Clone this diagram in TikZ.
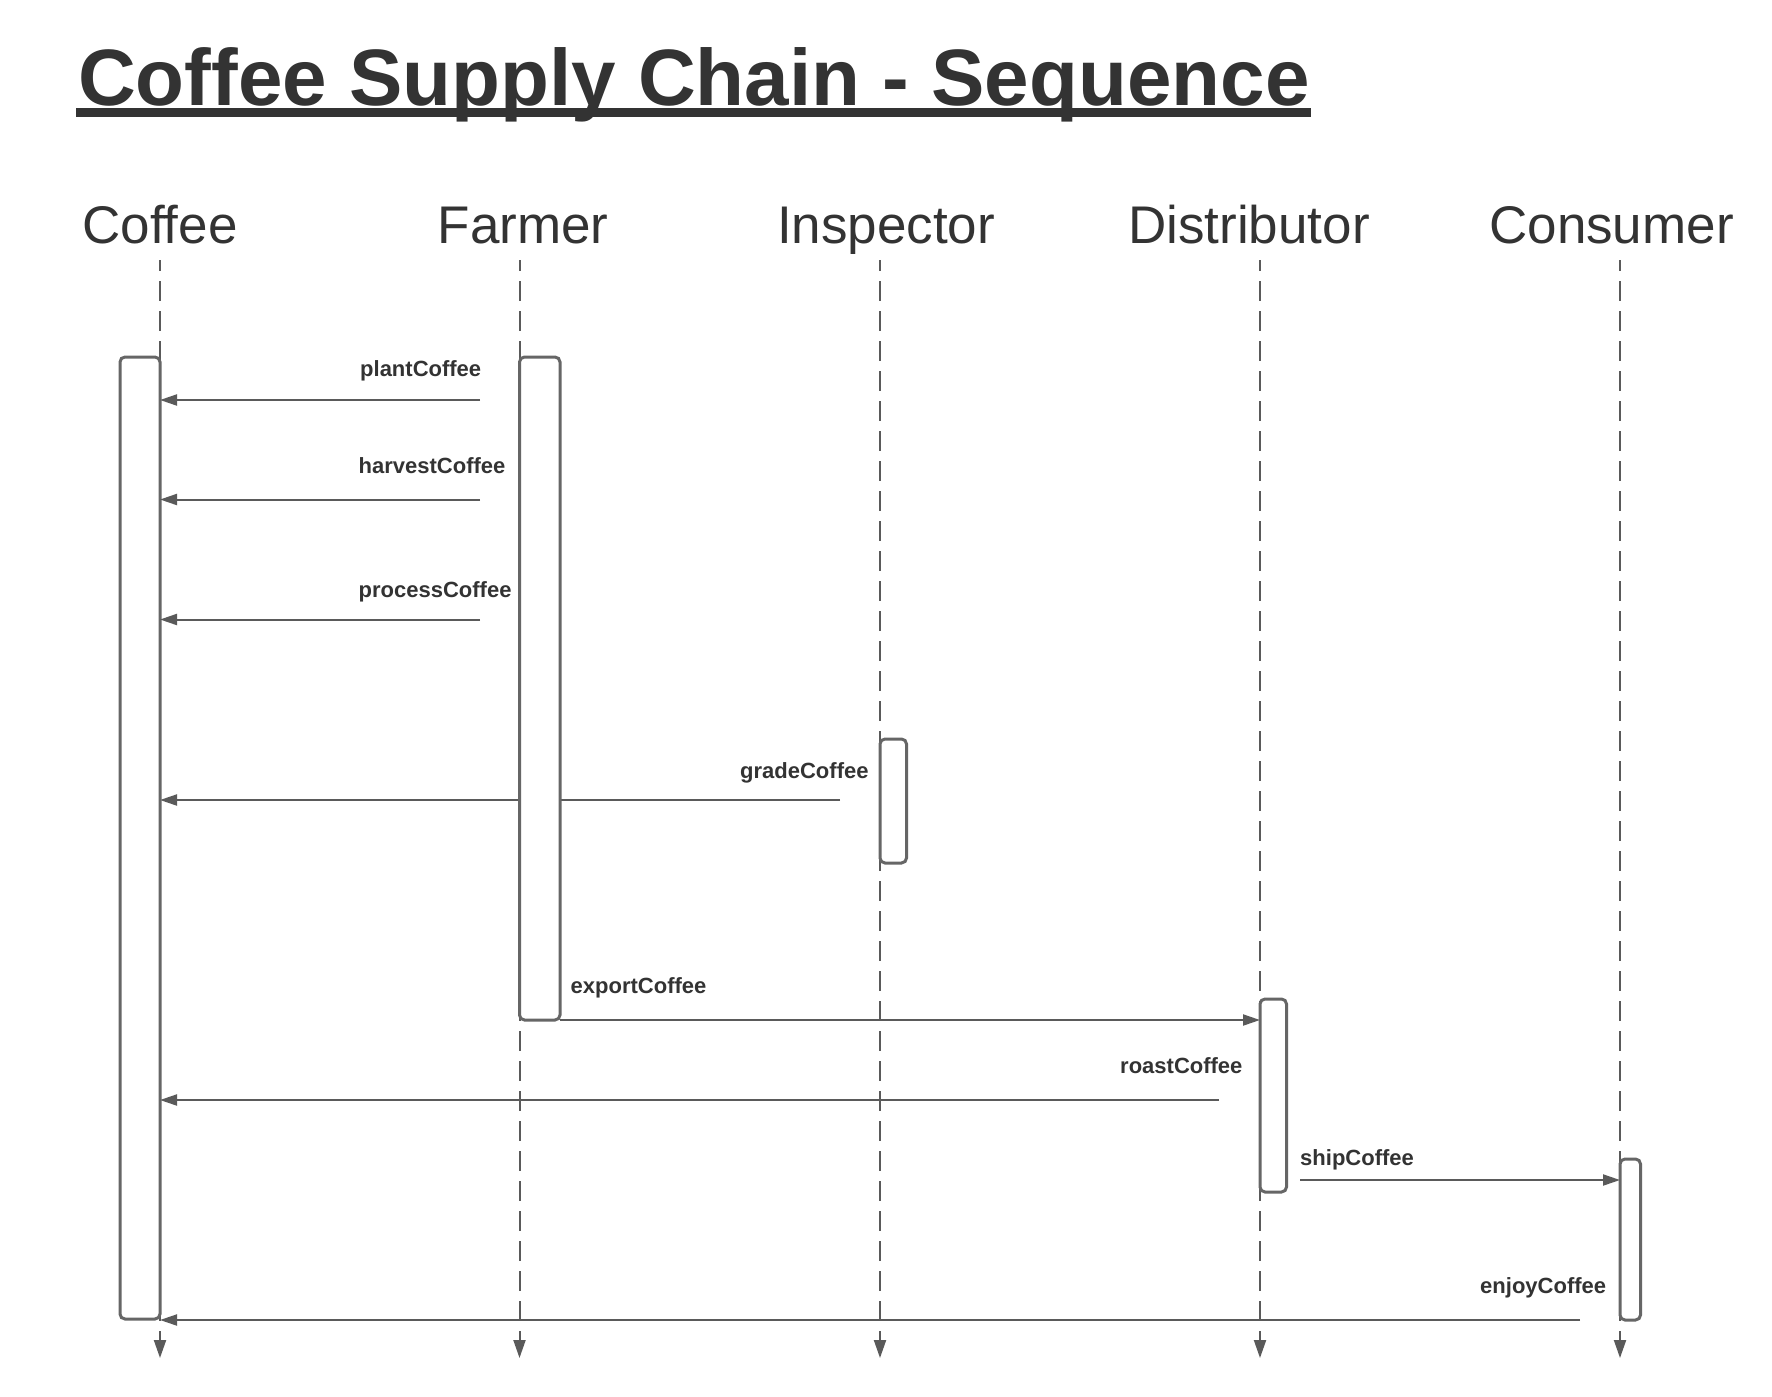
\documentclass[tikz,border=0pt]{standalone}
\usepackage{fontspec}
\setmainfont{Liberation Sans}
\usetikzlibrary{arrows.meta}
\definecolor{txt}{HTML}{333333}
\definecolor{ln}{HTML}{5A5A5A}
\definecolor{bx}{HTML}{666666}
\tikzset{
  lifeline/.style={draw=ln, line width=2pt, dash pattern=on 20pt off 10pt, dash phase=9pt,
    -{Triangle[length=18pt,width=12pt]}},
  msg/.style={draw=ln, line width=2pt, -{Triangle[length=17pt,width=11pt]}},
  actbox/.style={draw=bx, line width=3pt, fill=white, rounded corners=5pt, inner sep=0pt, outer sep=0pt, anchor=north west},
  hdr/.style={text=txt, inner sep=0pt, anchor=base, font=\fontsize{53}{60}\selectfont},
  lbl/.style={text=txt, inner sep=0pt, anchor=base west, font=\fontsize{22}{26}\selectfont\bfseries},
}
\begin{document}
\begin{tikzpicture}[x=1pt,y=-1pt]
\fill[white] (0,0) rectangle (1772,1397);
\useasboundingbox (0,0) rectangle (1772,1397);
% title
\node[text=txt, inner sep=0pt, anchor=base west, font=\fontsize{80}{90}\selectfont\bfseries] (title) at (78,105) {Coffee Supply Chain - Sequence};
\fill[txt] (76,108) rectangle (1311,117);
% headers
\node[hdr] (hC) at (160,243) {Coffee};
\node[hdr] (hF) at (523,243) {Farmer};
\node[hdr] (hI) at (886,243) {Inspector};
\node[hdr] (hD) at (1249,243) {Distributor};
\node[hdr] (hK) at (1611.5,243) {Consumer};
% lifeline ends
\coordinate (tC) at (160,260);   \coordinate (bC) at (160,1358);
\coordinate (tF) at (519.5,260); \coordinate (bF) at (519.5,1358);
\coordinate (tI) at (880,260);   \coordinate (bI) at (880,1358);
\coordinate (tD) at (1260,260);  \coordinate (bD) at (1260,1358);
\coordinate (tK) at (1620,260);  \coordinate (bK) at (1620,1358);
\draw[lifeline] (tC) -- (bC);
\draw[lifeline] (tF) -- (bF);
\draw[lifeline] (tI) -- (bI);
\draw[lifeline] (tD) -- (bD);
\draw[lifeline] (tK) -- (bK);
% message start points
\coordinate (s1) at (480,400);
\coordinate (s2) at (480,499.5);
\coordinate (s3) at (480,619.5);
\coordinate (s4) at (840,800);
\coordinate (s6) at (1219,1100);
\coordinate (s7) at (1300,1180);
\coordinate (s8) at (1580,1320);
% gradeCoffee passes behind the Farmer box
\draw[msg] (s4) -- (tC |- s4);
% activation boxes
\node[actbox, minimum width=40pt, minimum height=962pt] (aC) at (120,357) {};
\node[actbox, minimum width=40.5pt, minimum height=663pt] (aF) at (519.5,357) {};
\node[actbox, minimum width=26.5pt, minimum height=124pt] (aI) at (880,739) {};
\node[actbox, minimum width=26.5pt, minimum height=193pt] (aD) at (1260,999) {};
\node[actbox, minimum width=20.5pt, minimum height=161pt] (aK) at (1620,1159) {};
% messages
\draw[msg] (s1) -- (aC.east |- s1);
\draw[msg] (s2) -- (aC.east |- s2);
\draw[msg] (s3) -- (aC.east |- s3);
\draw[msg] (aF.south east) -- (aD.west |- aF.south east);
\draw[msg] (s6) -- (aC.east |- s6);
\draw[msg] (s7) -- (aK.west |- s7);
\draw[msg] (s8) -- (aC.east |- s8);
% labels
\node[lbl] (l1) at (360,376) {plantCoffee};
\node[lbl] (l2) at (358.5,473) {harvestCoffee};
\node[lbl] (l3) at (358.5,597) {processCoffee};
\node[lbl] (l4) at (740,778) {gradeCoffee};
\node[lbl] (l5) at (570.5,993) {exportCoffee};
\node[lbl] (l6) at (1120,1073) {roastCoffee};
\node[lbl] (l7) at (1300,1165) {shipCoffee};
\node[lbl] (l8) at (1480,1293) {enjoyCoffee};
\end{tikzpicture}
\end{document}
